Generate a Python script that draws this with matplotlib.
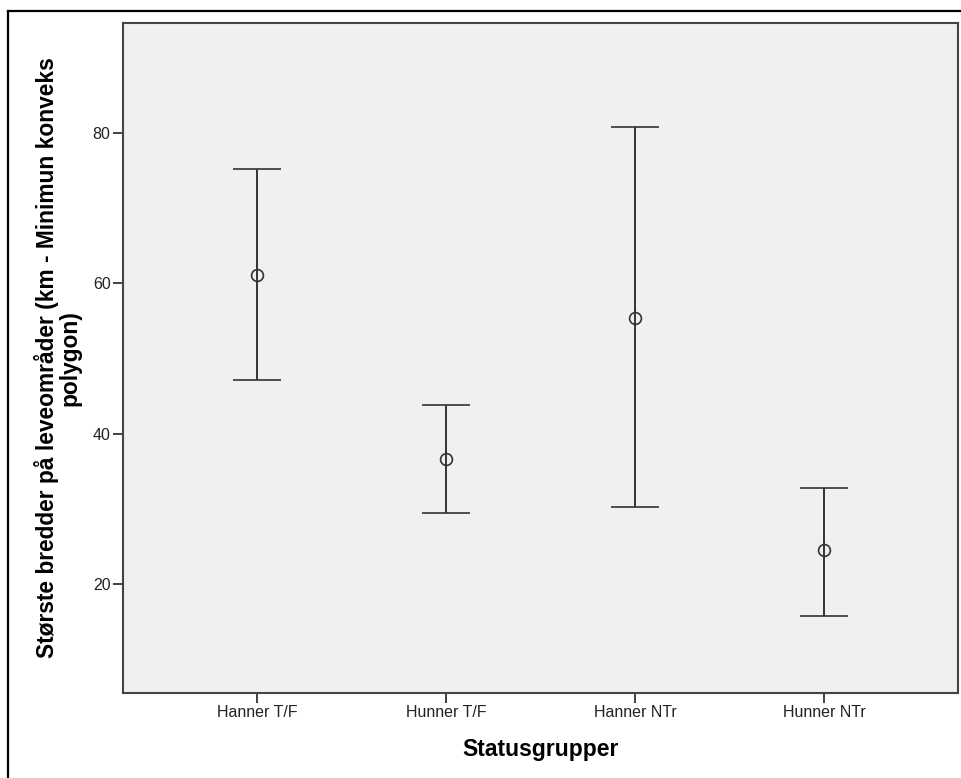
import matplotlib
matplotlib.use('Agg')
import numpy as np
import matplotlib.pyplot as plt
from matplotlib.lines import Line2D

# values
groups = ['Hanner T/F', 'Hunner T/F', 'Hanner NTr', 'Hunner NTr']
means = [61.1, 36.6, 55.4, 24.5]
upper = [75.1, 43.8, 80.7, 32.8]
lower = [47.1, 29.4, 30.3, 15.8]
y_ticks = [20, 40, 60, 80]

plt.rcParams['font.family'] = ['Liberation Sans', 'DejaVu Sans']

line_col = '#333333'

fig = plt.figure(figsize=(9.61, 7.78), dpi=100)
ax = fig.add_axes([0.128, 0.1096, 0.8689, 0.8612])
ax.set_facecolor('#f0f0f0')

x = np.arange(len(groups))
means = np.array(means)
err = [means - np.array(lower), np.array(upper) - means]

ax.errorbar(x, means, yerr=err, fmt='o', color=line_col,
            markerfacecolor='none', markeredgecolor=line_col,
            markersize=8.5, markeredgewidth=1.2, elinewidth=1.4,
            capsize=17, capthick=1.4)

ax.set_xlim(-0.71, 3.71)
ax.set_ylim(5.55, 94.6)
ax.set_xticks(x)
ax.set_xticklabels(groups)
ax.set_yticks(y_ticks)

ax.tick_params(axis='both', length=7.5, width=1.3, color=line_col,
               labelsize=11.5, labelcolor='#222222', pad=1.5)
for s in ax.spines.values():
    s.set_color('#444444')
    s.set_linewidth(1.5)

ax.set_xlabel('Statusgrupper', fontsize=16.5, fontweight='bold', labelpad=13)
ax.set_ylabel('Største bredder på leveområder (km - Minimun konveks\npolygon)',
              fontsize=16.4, fontweight='bold', labelpad=8, linespacing=1.0)

# outer frame of the SPSS output
fig.add_artist(Line2D([8 / 961, 8 / 961], [0, 1 - 11 / 778],
                      transform=fig.transFigure, color='black', lw=1.6))
fig.add_artist(Line2D([8 / 961, 1], [1 - 11 / 778, 1 - 11 / 778],
                      transform=fig.transFigure, color='black', lw=1.6))

fig.savefig('out.png', dpi=100)
